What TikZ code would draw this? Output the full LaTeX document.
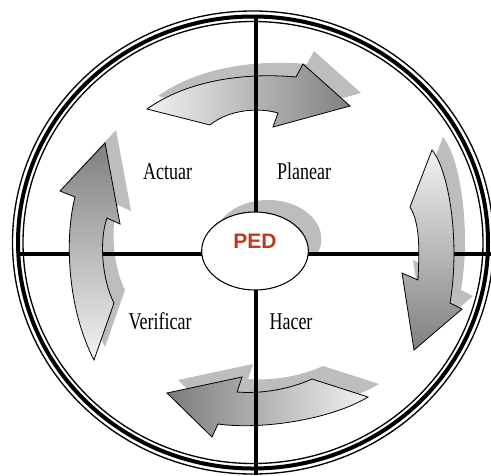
\documentclass[tikz,border=0pt]{standalone}
\usepackage{fontspec}
\setmainfont{Liberation Serif}
\newfontfamily\pedfont{Liberation Sans}
\definecolor{pedred}{RGB}{190,58,32}
\definecolor{shadowgray}{gray}{0.74}
\usetikzlibrary{shapes.geometric}

% Outlines of the four curved block arrows (units: 1 = 0.75pt, y downwards)
\newcommand\cycleTop[1]{\path[#1] (147,109) .. controls (185,82) and (240,72) .. (296,77)
  -- (303,64) -- (350,106) -- (273,127) -- (278,113)
  .. controls (258,107) and (228,110) .. (210,125) -- cycle;}
\newcommand\cycleRight[1]{\path[#1] (432,150) .. controls (450,172) and (460,245) .. (450,303)
  -- (462,309) -- (414,350) -- (402,273) -- (418,280)
  .. controls (419,255) and (421,225) .. (410,207) -- cycle;}
\newcommand\cycleBottom[1]{\path[#1] (368,397) .. controls (330,420) and (260,430) .. (218,424)
  -- (212,437) -- (167,393) -- (242,377) -- (237,392)
  .. controls (262,394) and (290,389) .. (312,379) -- cycle;}
\newcommand\cycleLeft[1]{\path[#1] (94,360) .. controls (68,310) and (64,240) .. (75,197)
  -- (60,191) -- (105,143) -- (120,224) -- (107,218)
  .. controls (99,240) and (102,280) .. (114,303) -- cycle;}

\tikzset{
  arrowbody/.style={draw=black, line width=0.6pt, line join=miter},
  dropshadow/.style={fill=shadowgray, shift={(11,-13)}},
  crossline/.style={line width=3.6pt},
  steplabel/.style={anchor=base, inner sep=0pt, font=\fontsize{18}{20}\selectfont},
  pedellipse/.style={ellipse, minimum width=80pt, minimum height=58.5pt, inner sep=0pt},
}

\begin{document}
\begin{tikzpicture}[x=0.75pt, y=-0.75pt]
  \useasboundingbox (0,0) rectangle (491,475);
  \fill[white] (0,0) rectangle (491,475);

  % drop shadows
  \cycleTop{dropshadow}
  \cycleRight{dropshadow}
  \cycleBottom{dropshadow}
  \cycleLeft{dropshadow}
  \begin{scope}
    \clip (0,0) rectangle (491,254);
    \node (pedshadow) [pedellipse, fill=shadowgray] at (268,239) {};
  \end{scope}

  % horizontal axis
  \coordinate (west) at (18,254);
  \coordinate (east) at (491,254);
  \draw[crossline] (west) -- (east);

  % the four cycle arrows
  \cycleTop{arrowbody, left color=black!5, middle color=black!55, right color=black!50}
  \cycleRight{arrowbody, top color=black!5, middle color=black!55, bottom color=black!50}
  \cycleBottom{arrowbody, left color=black!52, middle color=black!52, right color=black!5}
  \cycleLeft{arrowbody, top color=black!50, middle color=black!56, bottom color=black!5}

  % vertical axis
  \coordinate (north) at (256,17);
  \coordinate (south) at (256,475);
  \draw[crossline] (north) -- (south);

  % triple rim
  \draw[line width=1pt] (253,242.5) ellipse [x radius=240.5, y radius=231.5];
  \draw[line width=3pt] (253,242.5) ellipse [x radius=235, y radius=226];
  \draw[line width=1pt] (253,242.5) ellipse [x radius=230, y radius=221];

  % centre
  \node (ped) [pedellipse, draw, line width=0.8pt, fill=white] at (255,251) {};
  \node (pedtext) [anchor=base, inner sep=0pt, text=pedred,
    font=\pedfont\bfseries\fontsize{15.75}{18}\selectfont] at (255,248.3) {PED};

  % quadrant labels
  \node (actuar)    [steplabel] at (167.5,179.5) {\scalebox{0.75}[1]{Actuar}};
  \node (planear)   [steplabel] at (304,179.5)   {\scalebox{0.75}[1]{Planear}};
  \node (verificar) [steplabel] at (160,329.5)   {\scalebox{0.75}[1]{Verificar}};
  \node (hacer)     [steplabel] at (291,329.5)   {\scalebox{0.75}[1]{Hacer}};
\end{tikzpicture}
\end{document}
